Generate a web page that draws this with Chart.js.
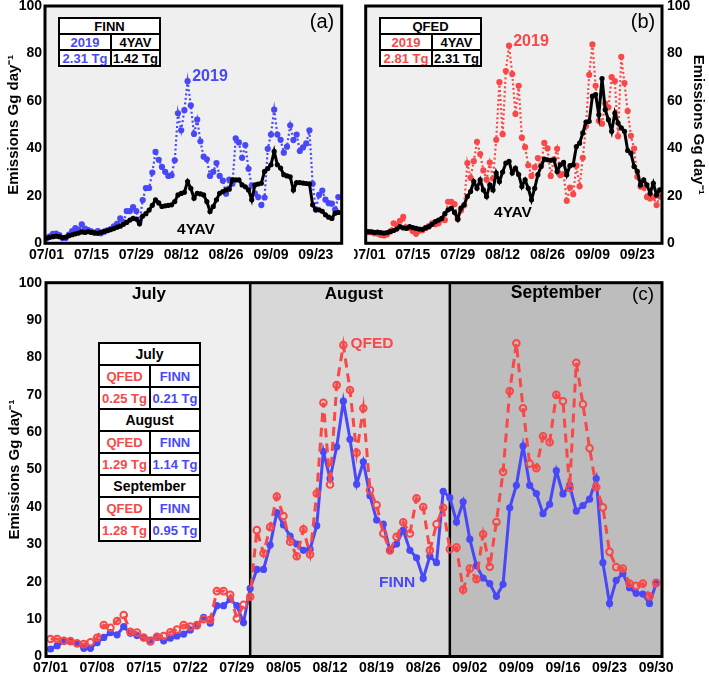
<!DOCTYPE html>
<html><head><meta charset="utf-8">
<script src="https://cdn.jsdelivr.net/npm/chart.js@4"></script>
<style>
html,body{margin:0;padding:0;background:#fff;}
body{width:709px;height:677px;position:relative;overflow:hidden;font-family:"Liberation Sans",Arial,Helvetica,sans-serif;}
canvas{position:absolute;}
.t{position:absolute;transform:translate(-50%,-50%);white-space:nowrap;font-weight:bold;line-height:1;}
.p{font-weight:normal;}
table{position:absolute;border-collapse:collapse;background:#fff;table-layout:fixed;}
td{border:2px solid #000;text-align:center;font-weight:bold;padding:0;font-size:13px;line-height:1;white-space:nowrap;overflow:hidden;}
.b{color:#4848f8;} .r{color:#f84848;}
</style></head><body>
<canvas id="ca" width="354" height="262" style="left:0;top:0;width:354px;height:262px"></canvas>
<canvas id="cb" width="355" height="262" style="left:354px;top:0;width:355px;height:262px"></canvas>
<canvas id="cc" width="709" height="415" style="left:0;top:262px;width:709px;height:415px"></canvas>

<table style="left:58px;top:17px;width:101px;height:48px">
<colgroup><col style="width:52px"><col style="width:49px"></colgroup>
<tr style="height:16px"><td colspan="2">FINN</td></tr>
<tr style="height:16px"><td class="b">2019</td><td>4YAV</td></tr>
<tr style="height:16px"><td class="b">2.31 Tg</td><td>1.42 Tg</td></tr>
</table>
<table style="left:379px;top:17px;width:101px;height:48px">
<colgroup><col style="width:52px"><col style="width:49px"></colgroup>
<tr style="height:16px"><td colspan="2">QFED</td></tr>
<tr style="height:16px"><td class="r">2019</td><td>4YAV</td></tr>
<tr style="height:16px"><td class="r">2.81 Tg</td><td>2.31 Tg</td></tr>
</table>
<table style="left:98px;top:342px;width:101px;height:200px">
<colgroup><col style="width:51px"><col style="width:50px"></colgroup>
<tr style="height:22px"><td colspan="2" style="font-size:14px">July</td></tr>
<tr style="height:22px"><td class="r">QFED</td><td class="b">FINN</td></tr>
<tr style="height:22px"><td class="r">0.25 Tg</td><td class="b">0.21 Tg</td></tr>
<tr style="height:22px"><td colspan="2" style="font-size:14px">August</td></tr>
<tr style="height:22px"><td class="r">QFED</td><td class="b">FINN</td></tr>
<tr style="height:22px"><td class="r">1.29 Tg</td><td class="b">1.14 Tg</td></tr>
<tr style="height:22px"><td colspan="2" style="font-size:14px">September</td></tr>
<tr style="height:22px"><td class="r">QFED</td><td class="b">FINN</td></tr>
<tr style="height:22px"><td class="r">1.28 Tg</td><td class="b">0.95 Tg</td></tr>
</table>

<div class="t p" style="left:322px;top:21px;font-size:20px">(a)</div>
<div class="t b" style="left:210px;top:76px;font-size:16px">2019</div>
<div class="t" style="left:196px;top:229px;font-size:15.5px">4YAV</div>
<div class="t p" style="left:643px;top:21px;font-size:20px">(b)</div>
<div class="t r" style="left:531px;top:41px;font-size:16px">2019</div>
<div class="t" style="left:513px;top:212px;font-size:15.5px">4YAV</div>
<div class="t" style="left:149px;top:293px;font-size:17px">July</div>
<div class="t" style="left:354px;top:293px;font-size:17px">August</div>
<div class="t" style="left:556px;top:293px;font-size:17.5px">September</div>
<div class="t p" style="left:643px;top:293px;font-size:19px">(c)</div>
<div class="t r" style="left:372px;top:343px;font-size:15.5px">QFED</div>
<div class="t b" style="left:397px;top:582px;font-size:15.5px">FINN</div>

<script>
const dates = ["07/01","07/02","07/03","07/04","07/05","07/06","07/07","07/08","07/09","07/10","07/11","07/12","07/13","07/14","07/15","07/16","07/17","07/18","07/19","07/20","07/21","07/22","07/23","07/24","07/25","07/26","07/27","07/28","07/29","07/30","07/31",
"08/01","08/02","08/03","08/04","08/05","08/06","08/07","08/08","08/09","08/10","08/11","08/12","08/13","08/14","08/15","08/16","08/17","08/18","08/19","08/20","08/21","08/22","08/23","08/24","08/25","08/26","08/27","08/28","08/29","08/30","08/31",
"09/01","09/02","09/03","09/04","09/05","09/06","09/07","09/08","09/09","09/10","09/11","09/12","09/13","09/14","09/15","09/16","09/17","09/18","09/19","09/20","09/21","09/22","09/23","09/24","09/25","09/26","09/27","09/28","09/29","09/30"];

const finn2019 = [2.0,2.9,4.0,4.1,3.5,2.2,2.2,3.7,5.1,6.4, 5.8,8.0,6.2,5.6,5.0,4.4,5.1,4.2,4.9,5.5,
 6.0,7.1,8.2,10.5,8.9,13.6,13.6,15.3,13.6,9.1, 18.2,23.3,23.3,29.8,38.5,35.2,32.2,30.1,28.4,28.7,
 35.0,54.8,47.6,56.1,68.3,58.1,46.1,52.1,43.0,36.5, 35.4,28.4,30.1,33.8,28.4,26.4,20.9,26.8,25.1,44.2,
 42.5,36.0,41.4,31.4,24.3,21.0,19.5,16.1,19.3,39.8, 45.8,56.3,45.8,43.6,38.2,40.7,49.7,43.5,45.8,38.9,
 40.4,42.1,47.6,25.1,14.2,20.4,22.2,18.4,16.9,16.7, 14.2,19.5];

const qfed2019 = [4.7,4.7,4.2,4.1,3.5,3.3,3.8,5.0,8.4,7.7, 9.5,11.1,6.6,6.4,5.1,4.0,5.3,5.5,6.5,7.2,
 8.4,8.0,8.4,10.0,9.8,17.5,17.5,16.5,10.2,13.8, 16.0,33.8,27.6,34.6,42.8,37.6,30.7,26.8,34.0,27.3,
 43.6,67.9,46.0,72.6,83.3,71.3,54.5,66.4,44.5,40.5, 32.9,28.4,32.0,35.9,32.9,42.3,40.0,28.4,35.4,39.8,
 28.7,29.2,17.9,23.5,20.7,32.7,24.0,36.0,49.4,71.0, 83.8,66.4,51.6,50.4,58.9,57.3,70.0,68.3,45.1,78.6,
 67.5,55.7,45.3,39.9,28.0,23.9,23.5,19.5,18.9,19.5, 16.1,19.7];

const finn4yav = [2.2,2.5,2.8,3.0,2.8,2.4,2.6,3.2,3.6,4.0, 4.3,4.8,4.6,4.9,4.6,4.4,4.2,4.6,5.0,5.4,
 5.8,6.2,6.8,7.2,8.0,8.8,9.8,10.5,10.2,8.2, 11.5,12.5,14.0,16.0,18.3,17.0,15.5,15.8,16.0,16.2,
 17.6,20.4,21.0,21.5,26.0,23.2,19.0,21.1,20.8,20.4, 17.6,13.4,15.5,18.3,21.1,21.8,22.5,22.8,26.7,26.7,
 26.7,24.6,23.8,22.5,18.3,24.6,25.0,25.3,30.3,31.5, 33.1,38.7,33.1,31.7,28.9,28.4,28.0,22.5,25.6,25.6,
 25.4,25.2,25.1,16.2,14.1,14.1,13.5,12.0,11.0,10.5, 12.7,13.0];

const qfed4yav = [4.9,4.8,4.6,4.7,4.5,4.3,4.5,5.0,5.4,6.0, 7.0,6.5,6.3,7.0,6.6,6.3,6.0,5.9,6.5,7.0,
 8.0,9.1,9.8,10.5,12.5,14.1,14.8,13.0,10.1,14.8, 16.2,19.7,21.8,26.0,23.2,26.7,22.5,19.7,24.6,22.5,
 29.6,26.0,30.0,33.8,34.5,29.6,31.7,29.0,23.9,26.7, 23.2,18.3,23.2,28.9,32.4,35.5,35.2,35.0,35.2,30.3,
 33.1,34.1,28.9,32.7,33.1,40.8,42.2,46.5,51.1,51.4, 62.0,62.7,54.2,69.4,56.3,52.1,47.2,54.9,50.7,48.6,
 47.2,39.1,38.0,32.4,30.3,24.6,26.7,24.6,21.1,25.3, 20.4,22.5];

const biweeklyTicks = [0,14,28,42,56,70,84];
const weeklyTicks = [0,7,14,21,28,35,42,49,56,63,70,77,84,91];
const yTicksTop = [0,20,40,60,80,100];
const yTicksBottom = [0,10,20,30,40,50,60,70,80,90,100];
const monthBreaks = [30,60];

const BLUE = '#4848f8', RED = '#f84848';
const FONT = "'Liberation Sans', Arial, Helvetica, sans-serif";
const pts = arr => arr.map((v, i) => ({x: i, y: v}));

const panelPlugin = {
  id: 'panel',
  beforeDatasetsDraw(chart, args, o) {
    const {ctx, chartArea: a} = chart;
    const xs = chart.scales.x;
    ctx.save();
    const br = o.breaks || [];
    const edges = [a.left, ...br.map(v => xs.getPixelForValue(v)), a.right];
    for (let i = 0; i < edges.length - 1; i++) {
      ctx.fillStyle = o.fills[i];
      ctx.fillRect(edges[i], a.top, edges[i+1] - edges[i], a.bottom - a.top);
    }
    ctx.strokeStyle = '#000'; ctx.lineWidth = 2.5;
    br.forEach(v => {
      const px = xs.getPixelForValue(v);
      ctx.beginPath(); ctx.moveTo(px, a.top); ctx.lineTo(px, a.bottom); ctx.stroke();
    });
    ctx.restore();
  },
  afterDraw(chart) {
    const {ctx, chartArea: a} = chart;
    ctx.save(); ctx.strokeStyle = '#000'; ctx.lineWidth = 3;
    ctx.strokeRect(a.left, a.top, a.right - a.left, a.bottom - a.top);
    ctx.restore();
  }
};

function makeChart(id, o) {
  return new Chart(document.getElementById(id), {
    type: 'line',
    data: {datasets: o.datasets},
    options: {
      responsive: false, animation: false, devicePixelRatio: 1,
      layout: {padding: o.padding},
      plugins: {legend: {display: false}, tooltip: {enabled: false},
                panel: {breaks: o.breaks, fills: o.fills}},
      elements: {line: {tension: 0}},
      scales: {
        x: {type: 'linear', min: o.xmin, max: o.xmax,
            grid: {display: false, drawTicks: false}, border: {display: false},
            afterBuildTicks: s => { s.ticks = o.xticks.map(v => ({value: v})); },
            afterFit: s => { s.height = o.xh; s.paddingLeft = 0; s.paddingRight = 0; },
            ticks: {font: {family: FONT, size: 14, weight: 'bold'}, color: '#000', padding: o.xpad,
                    maxRotation: 0, autoSkip: false, callback: v => dates[v]}},
        y: {type: 'linear', position: o.ypos, min: 0, max: 100,
            grid: {display: false, drawTicks: false}, border: {display: false},
            afterBuildTicks: s => { s.ticks = o.yticks.map(v => ({value: v})); },
            afterFit: s => { s.width = o.yw; s.paddingTop = 0; s.paddingBottom = 0; },
            ticks: {font: {family: FONT, size: 14, weight: 'bold'}, color: '#000', padding: o.ypad},
            title: {display: true, text: 'Emissions Gg day\u207B\u00B9',
                    font: {family: FONT, size: 15, weight: 'bold'}, color: '#000',
                    padding: {top: o.tpad, bottom: 0}}}
      }
    },
    plugins: [panelPlugin]
  });
}

function dotted(data, color) {
  return {data: pts(data), borderColor: color, backgroundColor: color, borderWidth: 2.2,
          borderDash: [2, 2.5], pointRadius: 3.1, pointBorderWidth: 0, pointBackgroundColor: color};
}
function black(data) {
  return {data: pts(data), borderColor: '#000', backgroundColor: '#000', borderWidth: 3,
          pointRadius: 2.6, pointBorderWidth: 0, pointBackgroundColor: '#000'};
}

makeChart('ca', {
  datasets: [black(finn4yav), dotted(finn2019, BLUE)],
  padding: {left: 0, top: 6, right: 12.3, bottom: 0},
  xmin: -0.47, xmax: 92.06, xticks: biweeklyTicks, xh: 18.7, xpad: 3,
  ypos: 'left', yticks: yTicksTop, yw: 45, ypad: 3, tpad: 4.5,
  fills: ['#efefef']
});
makeChart('cb', {
  datasets: [black(qfed4yav), dotted(qfed2019, RED)],
  padding: {left: 11.7, top: 6, right: 0, bottom: 0},
  xmin: -0.7, xmax: 91.7, xticks: biweeklyTicks, xh: 18.7, xpad: 3,
  ypos: 'right', yticks: yTicksTop, yw: 47, ypad: 5, tpad: 1.5,
  fills: ['#efefef']
});
makeChart('cc', {
  datasets: [
    {data: pts(qfed2019), borderColor: RED, borderWidth: 3, borderDash: [9, 6],
     pointRadius: 3.3, pointBorderWidth: 2, pointBorderColor: RED, pointBackgroundColor: 'rgba(0,0,0,0)'},
    {data: pts(finn2019), borderColor: BLUE, backgroundColor: BLUE, borderWidth: 3,
     pointRadius: 3.6, pointBorderWidth: 0, pointBackgroundColor: BLUE}
  ],
  padding: {left: 0, top: 20.7, right: 47, bottom: 0},
  xmin: -0.68, xmax: 91.88, xticks: weeklyTicks, xh: 20.5, xpad: 3,
  ypos: 'left', yticks: yTicksBottom, yw: 46, ypad: 4, tpad: 6,
  breaks: monthBreaks, fills: ['#efefef', '#d8d8d8', '#bdbdbd']
});
</script>
</body></html>
